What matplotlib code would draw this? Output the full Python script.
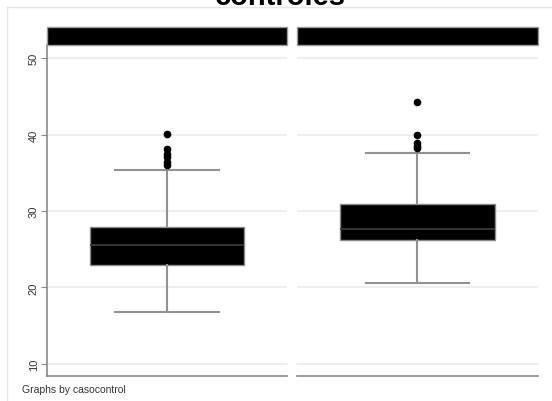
import matplotlib
matplotlib.use("Agg")
import matplotlib.pyplot as plt
from matplotlib.patches import Rectangle

# Data
groups = ["casos", "controles"]
q1 = [22.9, 26.2]
median = [25.6, 27.7]
q3 = [27.95, 30.9]
whislo = [16.8, 20.6]
whishi = [35.3, 37.6]
outliers = [
    [40.1, 38.1, 37.5, 37.0, 36.4, 36.0],
    [44.3, 39.9, 38.9, 38.5, 38.2],
]
yticks = [10, 20, 30, 40, 50]
title_text = "controles"
note_text = "Graphs by casocontrol"

W, H = 552, 402
fig = plt.figure(figsize=(W / 100, H / 100), dpi=100)
fig.patch.set_facecolor("white")
plt.rcParams["font.family"] = ["Liberation Sans", "DejaVu Sans"]

def fx(px):
    return px / W

def fy(py):
    return 1 - py / H

# outer light border
fig.add_artist(plt.Line2D([fx(7), fx(552)], [fy(8), fy(8)], color="#e6e6e6", lw=1.0))
fig.add_artist(plt.Line2D([fx(7), fx(7)], [fy(8), fy(402)], color="#e6e6e6", lw=1.0))

panels_x = [(47, 287), (297, 538)]
top_px, bot_px = 46, 377
ylim = (8.43, 51.7)

for i, (x0, x1) in enumerate(panels_x):
    ax = fig.add_axes([fx(x0), fy(bot_px), fx(x1 - x0), fy(top_px) - fy(bot_px)])
    stats = [dict(med=median[i], q1=q1[i], q3=q3[i], whislo=whislo[i], whishi=whishi[i],
                  fliers=outliers[i], label=groups[i])]
    ax.bxp(stats, positions=[0], widths=0.64, patch_artist=True, capwidths=0.43,
           boxprops=dict(facecolor="black", edgecolor="#8a8a8a", linewidth=1.0),
           medianprops=dict(color="#3a3a3a", linewidth=1.3),
           whiskerprops=dict(color="#929292", linewidth=1.5),
           capprops=dict(color="#929292", linewidth=1.5),
           flierprops=dict(marker="o", markerfacecolor="black", markeredgecolor="black",
                           markersize=4.5))
    ax.set_xlim(-0.5, 0.5)
    ax.set_ylim(*ylim)
    ax.set_xticks([])
    ax.set_yticks(yticks)
    for y in yticks:
        ax.axhline(y, color="#ebebeb", lw=1.2, zorder=0)
    for s in ["top", "right"]:
        ax.spines[s].set_visible(False)
    ax.spines["bottom"].set_color("#8a8a8a")
    ax.spines["bottom"].set_linewidth(1.2)
    if i == 0:
        ax.spines["left"].set_color("#8a8a8a")
        ax.spines["left"].set_linewidth(1.2)
        ax.tick_params(axis="y", length=4, color="#8a8a8a", labelsize=8, labelcolor="#333333",
                       pad=2)
        for lab in ax.get_yticklabels():
            lab.set_rotation(90)
            lab.set_va("center")
    else:
        ax.spines["left"].set_visible(False)
        ax.set_yticks([])
    ax.set_facecolor("white")
    # strip header
    fig.patches.append(Rectangle((fx(x0), fy(46)), fx(x1 - x0), fy(28) - fy(46),
                                 transform=fig.transFigure, facecolor="black",
                                 edgecolor="#9a9a9a", lw=1.0))

fig.text(fx(280), fy(5.0), title_text, ha="center", va="baseline", fontsize=21,
         fontweight="bold", color="black")
fig.text(fx(22), fy(390), note_text, ha="left", va="center", fontsize=7.5, color="#333333")

fig.savefig("out.png", dpi=100)
